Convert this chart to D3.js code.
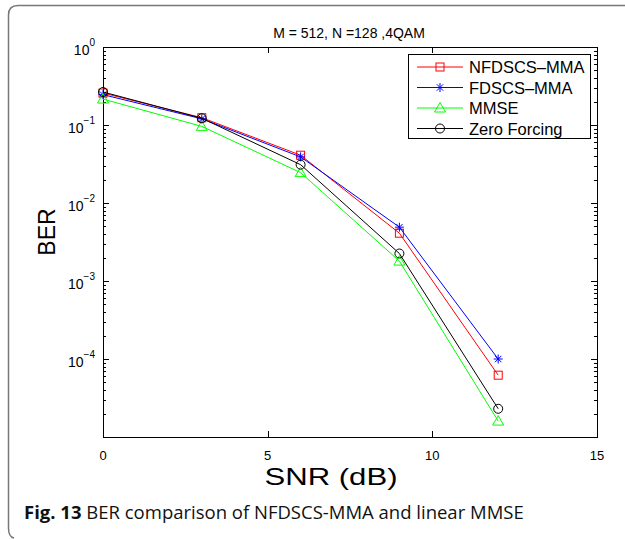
<!DOCTYPE html>
<html>
<head>
<meta charset="utf-8">
<script src="https://cdn.jsdelivr.net/npm/d3@7"></script>
<style>
body { margin:0; background:#fff; }
</style>
</head>
<body>
<script>
// data
var snr = [0, 3, 6, 9, 12];
var nfdscsMma = [0.257, 0.124, 0.041, 0.0041, 0.000062];
var fdscsMma = [0.245, 0.120, 0.039, 0.0049, 0.000100];
var mmse = [0.215, 0.096, 0.0245, 0.0018, 0.000016];
var zeroForcing = [0.265, 0.122, 0.031, 0.00225, 0.000023];

var seriesNames = ["NFDSCS\u2013MMA", "FDSCS\u2013MMA", "MMSE", "Zero Forcing"];
var xTicks = [0, 5, 10, 15];
var yExps = [0, -1, -2, -3, -4];

var totalWidth = 625;
var totalHeight = 540;
var margin = {top:47, left:103, bottom:103, right:28};
var width = totalWidth - margin.left - margin.right;
var height = totalHeight - margin.top - margin.bottom;
var plotFont = "'Liberation Sans', Arial, sans-serif";

var svg = d3.select("body").append("svg")
  .attr("width", totalWidth)
  .attr("height", totalHeight)
  .attr("font-family", plotFont);

// frame of the figure panel
svg.append("path")
  .attr("d", "M625,5.5 L18,5.5 Q8.5,5.5 8.5,15 L8.5,528 Q8.5,537 14,538")
  .attr("fill", "none")
  .attr("stroke", "#777")
  .attr("stroke-width", 1.5);

var g = svg.append("g")
  .attr("transform", "translate(" + margin.left + "," + margin.top + ")");

var x = d3.scaleLinear().domain([0, 15]).range([0, width]);
var y = d3.scaleLog().domain([1e-5, 1]).range([height, 0]);

// minor + major ticks on log axis
var minor = [];
for (var e = -5; e < 0; e++) {
  for (var m = 2; m <= 9; m++) minor.push(m * Math.pow(10, e));
}

var tickG = g.append("g").attr("stroke", "#000").attr("stroke-width", 1);
minor.forEach(function(v) {
  var yy = Math.round(y(v)) + 0.5;
  tickG.append("line").attr("x1", 0).attr("x2", 3).attr("y1", yy).attr("y2", yy);
  tickG.append("line").attr("x1", width).attr("x2", width - 3).attr("y1", yy).attr("y2", yy);
});
yExps.forEach(function(e) {
  var yy = Math.round(y(Math.pow(10, e))) + 0.5;
  tickG.append("line").attr("x1", 0).attr("x2", 6).attr("y1", yy).attr("y2", yy);
  tickG.append("line").attr("x1", width).attr("x2", width - 6).attr("y1", yy).attr("y2", yy);
});
xTicks.forEach(function(t) {
  var xx = Math.round(x(t)) + 0.5;
  tickG.append("line").attr("x1", xx).attr("x2", xx).attr("y1", height).attr("y2", height - 6);
  tickG.append("line").attr("x1", xx).attr("x2", xx).attr("y1", 0).attr("y2", 6);
});

// box
g.append("rect")
  .attr("x", 0.5).attr("y", 0.5)
  .attr("width", width).attr("height", height)
  .attr("fill", "none").attr("stroke", "#000");

// x tick labels
g.selectAll(".xlab")
  .data(xTicks)
  .enter().append("text")
  .attr("class", "xlab")
  .attr("x", function(d) { return x(d); })
  .attr("y", height + 23)
  .attr("text-anchor", "middle")
  .attr("font-size", 13)
  .text(function(d) { return d; });

// y tick labels: 10^e
var ylab = g.selectAll(".ylab")
  .data(yExps)
  .enter().append("text")
  .attr("class", "ylab")
  .attr("text-anchor", "end")
  .attr("font-size", 14)
  .attr("x", -8)
  .attr("y", function(d) { return y(Math.pow(10, d)) + 8; });
ylab.append("tspan").text("10");
ylab.append("tspan")
  .attr("dy", -9)
  .attr("font-size", 10)
  .text(function(d) { return d == 0 ? "0" : "\u2212" + (-d); });

// title and axis labels
svg.append("text")
  .attr("x", 349).attr("y", 38)
  .attr("text-anchor", "middle")
  .attr("font-size", 14)
  .text("M = 512, N =128 ,4QAM");

svg.append("text")
  .attr("x", 331).attr("y", 485)
  .attr("text-anchor", "middle")
  .attr("font-size", 24)
  .attr("textLength", 133)
  .attr("lengthAdjust", "spacingAndGlyphs")
  .text("SNR (dB)");

svg.append("text")
  .attr("transform", "translate(55,232) rotate(-90)")
  .attr("text-anchor", "middle")
  .attr("font-size", 23)
  .text("BER");

// series
var series = [
  {name: seriesNames[0], values: nfdscsMma, color: "#ff0000", marker: "square"},
  {name: seriesNames[1], values: fdscsMma, color: "#0000ff", marker: "star"},
  {name: seriesNames[2], values: mmse, color: "#00ff00", marker: "triangle"},
  {name: seriesNames[3], values: zeroForcing, color: "#000000", marker: "circle"}
];

function drawMarker(sel, type, color) {
  if (type == "square") {
    sel.append("rect").attr("x", -4).attr("y", -4).attr("width", 8).attr("height", 8)
      .attr("fill", "none").attr("stroke", color);
  } else if (type == "circle") {
    sel.append("circle").attr("r", 4.5).attr("fill", "none").attr("stroke", color);
  } else if (type == "triangle") {
    sel.append("path").attr("d", "M0,-5.5 L5.5,4 L-5.5,4 Z")
      .attr("fill", "none").attr("stroke", color);
  } else {
    sel.append("path").attr("d", "M0,-4.5 L0,4.5 M-4.5,0 L4.5,0 M-3.2,-3.2 L3.2,3.2 M-3.2,3.2 L3.2,-3.2")
      .attr("fill", "none").attr("stroke", color);
  }
}

var line = d3.line()
  .x(function(d, i) { return x(snr[i]); })
  .y(function(d) { return y(d); });

series.forEach(function(s) {
  g.append("path")
    .datum(s.values)
    .attr("d", line)
    .attr("fill", "none")
    .attr("stroke", s.color)
    .attr("stroke-width", 1);
  s.values.forEach(function(v, i) {
    var mk = g.append("g").attr("transform", "translate(" + x(snr[i]) + "," + y(v) + ")");
    drawMarker(mk, s.marker, s.color);
  });
});

// legend
var leg = svg.append("g").attr("transform", "translate(408,54)");
leg.append("rect")
  .attr("x", 0.5).attr("y", 0.5).attr("width", 182).attr("height", 84)
  .attr("fill", "#fff").attr("stroke", "#000");
series.forEach(function(s, i) {
  var ly = 13 + i * 20.5;
  leg.append("line").attr("x1", 9).attr("x2", 55).attr("y1", ly).attr("y2", ly)
    .attr("stroke", s.color);
  drawMarker(leg.append("g").attr("transform", "translate(32," + ly + ")"), s.marker, s.color);
  leg.append("text")
    .attr("x", 61).attr("y", ly + 6)
    .attr("font-size", 16.5)
    .text(s.name);
});

// caption
var cap = svg.append("text")
  .attr("x", 24).attr("y", 519)
  .attr("font-family", "'Open Sans', 'Noto Sans', sans-serif")
  .attr("font-size", 18.5)
  .attr("fill", "#111");
cap.append("tspan").attr("font-weight", "bold").text("Fig. 13");
cap.append("tspan").text(" BER comparison of NFDSCS-MMA and linear MMSE");
</script>
</body>
</html>
